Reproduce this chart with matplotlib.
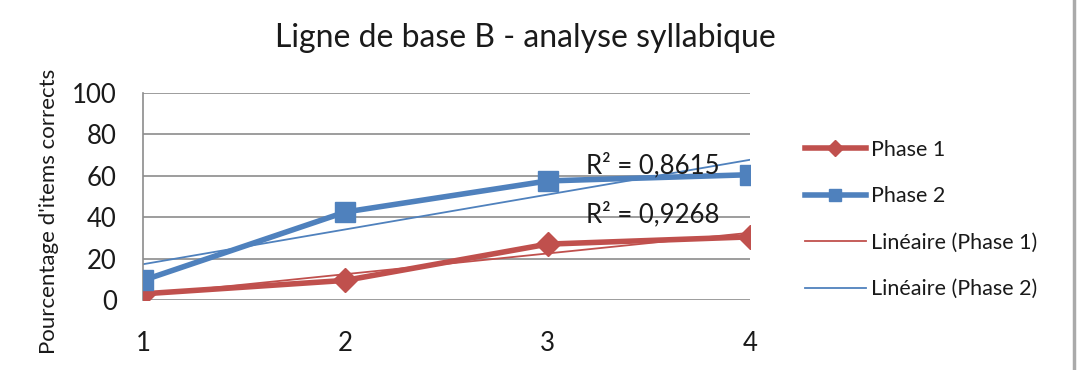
import numpy as np
import matplotlib
matplotlib.use("Agg")
import matplotlib.pyplot as plt
from matplotlib.lines import Line2D

plt.rcParams['font.family'] = ['Lato', 'DejaVu Sans']

# data
sessions = [1, 2, 3, 4]
phase1 = [3, 9.5, 27, 30.5]
phase2 = [9.5, 42.5, 57.5, 60.5]
r2_labels = ["R² = 0,9268", "R² = 0,8615"]
yticks = [0, 20, 40, 60, 80, 100]

red = "#c0504d"
blue = "#4f81bd"
txt = "#1a1a1a"

fig = plt.figure(figsize=(10.78, 3.70), dpi=100)
ax = fig.add_axes([0.1327, 0.189, 0.5630, 0.560])

ax.plot(sessions, phase1, color=red, lw=4, marker="D", ms=12, zorder=3)
ax.plot(sessions, phase2, color=blue, lw=4, marker="s", ms=14, zorder=3)

# linear trend lines
x = np.array(sessions, dtype=float)
for ys, c in [(phase1, red), (phase2, blue)]:
    k, b = np.polyfit(x, ys, 1)
    ax.plot(x, k * x + b, color=c, lw=1.3, zorder=2)

ax.text(3.19, 37.5, r2_labels[0], fontsize=18.5, color=txt, zorder=4)
ax.text(3.19, 61, r2_labels[1], fontsize=18.5, color=txt, zorder=4)

ax.set_xlim(1, 4)
ax.set_ylim(0, 100)
ax.set_xticks(sessions)
ax.set_yticks(yticks)
ax.tick_params(length=0, labelsize=18.5, colors=txt)
ax.tick_params(axis="x", pad=22)
ax.tick_params(axis="y", pad=19)
ax.yaxis.grid(True, color="#8c8c8c", lw=1.2)
ax.set_axisbelow(True)
for s in ["top", "right", "bottom"]:
    ax.spines[s].set_visible(False)
ax.spines["left"].set_color("#8c8c8c")
ax.spines["left"].set_linewidth(1.2)

fig.text(0.045, 0.43, "Pourcentage d'items corrects", rotation=90, ha="center",
         va="center", fontsize=16, color=txt)
fig.text(0.487, 0.897, "Ligne de base B - analyse syllabique", ha="center", va="center",
         fontsize=23, color=txt)

handles = [
    Line2D([], [], color=red, lw=4, marker="D", ms=8),
    Line2D([], [], color=blue, lw=4, marker="s", ms=9),
    Line2D([], [], color=red, lw=1.3),
    Line2D([], [], color=blue, lw=1.3),
]
labels = ["Phase 1", "Phase 2", "Linéaire (Phase 1)", "Linéaire (Phase 2)"]
fig.legend(handles, labels, loc="upper left", bbox_to_anchor=(0.747, 0.622),
           frameon=False, fontsize=15.5, labelspacing=1.23, handlelength=2.8,
           handletextpad=0.25, labelcolor=txt, borderaxespad=0, borderpad=0)

fig.add_artist(Line2D([0.996, 0.996], [0, 1], color="#aaaaaa", lw=2.5,
                      transform=fig.transFigure))

fig.savefig("out.png", dpi=100)
